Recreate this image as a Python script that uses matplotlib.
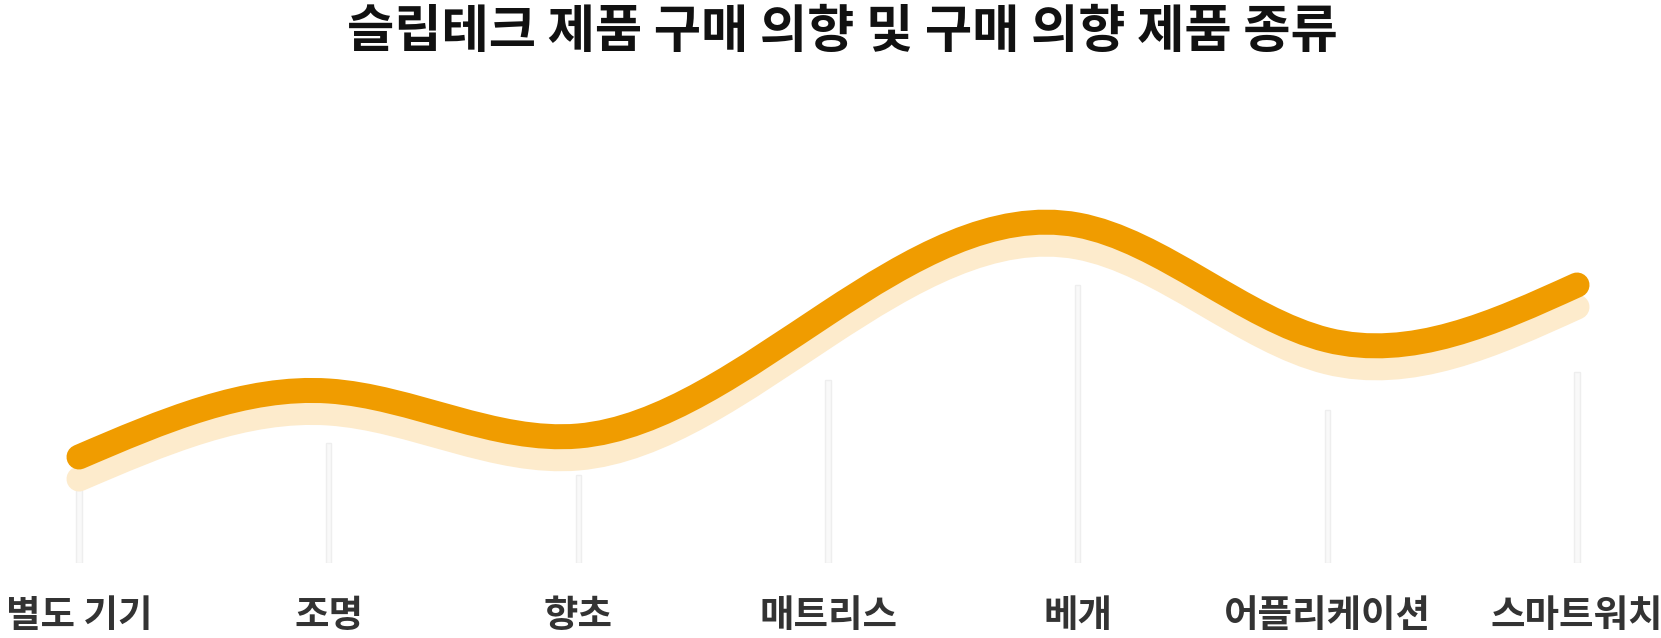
import numpy as np
import matplotlib.pyplot as plt
from matplotlib.path import Path
from matplotlib.patches import PathPatch
from matplotlib.transforms import ScaledTranslation

plt.rcParams['font.family'] = ['Noto Sans CJK KR', 'DejaVu Sans']

# Data
categories = ["별도 기기", "조명", "향초", "매트리스", "베개", "어플리케이션", "스마트워치"]
intent_line = [21.2, 34.4, 25.4, 50.0, 67.6, 44.6, 55.6]
intent_bars = [14.6, 24.0, 17.6, 36.6, 55.6, 30.6, 38.2]

title = "슬립테크 제품 구매 의향 및 구매 의향 제품 종류"

orange = "#f09c00"
shadow = "#fdebcc"


def natural_bezier(xs, ys):
    # smooth line (natural cubic spline) written as bezier segments
    xs = np.asarray(xs, float)
    ys = np.asarray(ys, float)
    n = len(xs)
    h = np.diff(xs)
    A = np.zeros((n, n))
    b = np.zeros(n)
    A[0, 0] = A[-1, -1] = 1
    for i in range(1, n - 1):
        A[i, i - 1] = h[i - 1]
        A[i, i] = 2 * (h[i - 1] + h[i])
        A[i, i + 1] = h[i]
        b[i] = 6 * ((ys[i + 1] - ys[i]) / h[i] - (ys[i] - ys[i - 1]) / h[i - 1])
    M = np.linalg.solve(A, b)
    m = np.zeros(n)
    for i in range(n - 1):
        m[i] = (ys[i + 1] - ys[i]) / h[i] - h[i] * (2 * M[i] + M[i + 1]) / 6
    m[-1] = (ys[-1] - ys[-2]) / h[-1] + h[-1] * (M[-2] + 2 * M[-1]) / 6
    verts = [(xs[0], ys[0])]
    codes = [Path.MOVETO]
    for i in range(n - 1):
        d = h[i] / 3
        verts += [(xs[i] + d, ys[i] + m[i] * d),
                  (xs[i + 1] - d, ys[i + 1] - m[i + 1] * d),
                  (xs[i + 1], ys[i + 1])]
        codes += [Path.CURVE4] * 3
    return Path(verts, codes)


fig = plt.figure(figsize=(16.61, 6.38), dpi=100)
ax = fig.add_axes([0, 75 / 638, 1, 563 / 638])

x = np.arange(len(categories))
ax.bar(x, intent_bars, width=0.022, color="#f9f9f9", edgecolor="#eeeeee",
       linewidth=1, zorder=1)

path = natural_bezier(x, intent_line)
shift = ax.transData + ScaledTranslation(0, -0.22, fig.dpi_scale_trans)
ax.add_patch(PathPatch(path, fill=False, edgecolor=shadow, lw=18,
                       capstyle="round", joinstyle="round",
                       transform=shift, zorder=2, clip_on=False))
ax.add_patch(PathPatch(path, fill=False, edgecolor=orange, lw=18,
                       capstyle="round", joinstyle="round",
                       zorder=3, clip_on=False))

ax.set_xlim(-79 / 249.67, (1661 - 79) / 249.67)
ax.set_ylim(0, 563 / 5)
ax.set_xticks(x)
ax.set_xticklabels(categories, fontsize=27, fontweight="bold", color="#333333")
ax.tick_params(axis="x", length=0, pad=24)
ax.set_yticks([])
for s in ax.spines.values():
    s.set_visible(False)

fig.text(0.507, 1 - 31 / 638, title, ha="center", va="center",
         fontsize=37, fontweight="heavy", color="#111111")

fig.savefig("out.png", dpi=100)
